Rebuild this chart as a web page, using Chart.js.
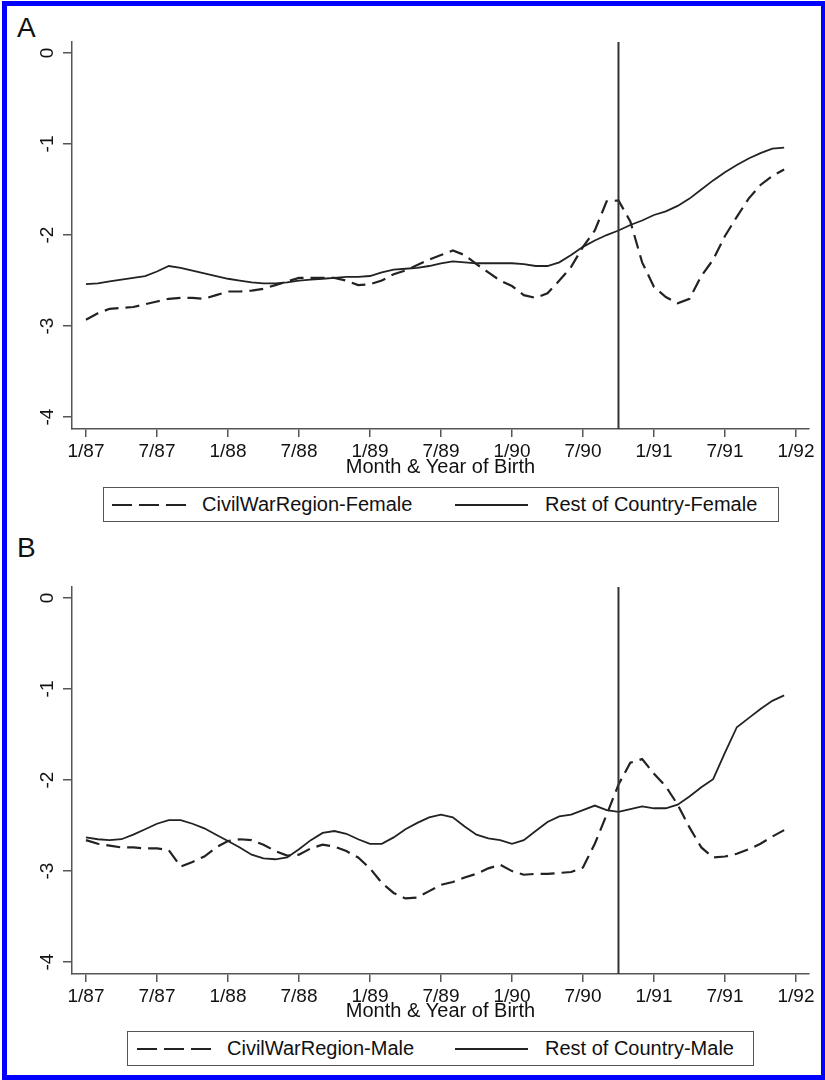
<!DOCTYPE html>
<html>
<head>
<meta charset="utf-8">
<script src="https://cdn.jsdelivr.net/npm/chart.js@4.4.1/dist/chart.umd.min.js"></script>
<style>
    body { margin: 0; background: #fff; font-family: "Liberation Sans", Arial, sans-serif; color: #111; }
    #page { position: relative; width: 825px; height: 1080px; overflow: hidden; }
    #frame { position: absolute; left: 2px; top: 1px; right: 0; bottom: 0; border: solid #0000ff; border-width: 5px 4px 5px 5px; }
    canvas { position: absolute; left: 0; }
    .panel-letter { position: absolute; left: 17px; font-size: 28px; line-height: 28px; }
    .legend { position: absolute; border: 1.5px solid #555; box-sizing: border-box; height: 35px; }
    .legend .item { position: absolute; top: 0; height: 100%; display: flex; align-items: center; font-size: 20px; }
    .legend svg { position: absolute; top: 0; height: 100%; }
</style>
</head>
<body>
<div id="page">
    <div id="frame"></div>

    <div class="panel-letter" style="top:14px">A</div>
    <canvas id="chartA" width="825" height="481" style="top:0"></canvas>
    <div class="legend" style="left:103px; top:487px; width:676px">
        <svg width="75" style="left:8px"><line x1="0" y1="17" x2="75" y2="17" stroke="#222" stroke-width="2" stroke-dasharray="20 7"/></svg>
        <div class="item" style="left:98px">CivilWarRegion-Female</div>
        <svg width="73" style="left:351px"><line x1="0" y1="17" x2="73" y2="17" stroke="#222" stroke-width="2"/></svg>
        <div class="item" style="left:441px">Rest of Country-Female</div>
    </div>

    <div class="panel-letter" style="top:534px">B</div>
    <canvas id="chartB" width="825" height="480" style="top:545px"></canvas>
    <div class="legend" style="left:127px; top:1031px; width:627px">
        <svg width="75" style="left:9px"><line x1="0" y1="17" x2="75" y2="17" stroke="#222" stroke-width="2" stroke-dasharray="20 7"/></svg>
        <div class="item" style="left:99px">CivilWarRegion-Male</div>
        <svg width="73" style="left:327px"><line x1="0" y1="17" x2="73" y2="17" stroke="#222" stroke-width="2"/></svg>
        <div class="item" style="left:417px">Rest of Country-Male</div>
    </div>
</div>

<script>
    // month of birth, one entry per data point (1/87 .. 12/91)
    var birthMonths = [
        '1/87', '2/87', '3/87', '4/87', '5/87', '6/87', '7/87', '8/87', '9/87', '10/87', '11/87', '12/87',
        '1/88', '2/88', '3/88', '4/88', '5/88', '6/88', '7/88', '8/88', '9/88', '10/88', '11/88', '12/88',
        '1/89', '2/89', '3/89', '4/89', '5/89', '6/89', '7/89', '8/89', '9/89', '10/89', '11/89', '12/89',
        '1/90', '2/90', '3/90', '4/90', '5/90', '6/90', '7/90', '8/90', '9/90', '10/90', '11/90', '12/90',
        '1/91', '2/91', '3/91', '4/91', '5/91', '6/91', '7/91', '8/91', '9/91', '10/91', '11/91', '12/91'
    ];

    var xTickPos = [0, 6, 12, 18, 24, 30, 36, 42, 48, 54, 60];
    var xTickLabels = ['1/87', '7/87', '1/88', '7/88', '1/89', '7/89', '1/90', '7/90', '1/91', '7/91', '1/92'];
    var yTicks = [0, -1, -2, -3, -4];
    var warStart = 45; // 10/90

    var civilWarFemale = [
        -2.93, -2.86, -2.81, -2.80, -2.79, -2.76, -2.73, -2.70, -2.69, -2.69, -2.70, -2.66,
        -2.62, -2.62, -2.61, -2.59, -2.55, -2.51, -2.47, -2.47, -2.47, -2.47, -2.50, -2.55,
        -2.54, -2.50, -2.43, -2.39, -2.33, -2.27, -2.22, -2.17, -2.22, -2.32, -2.41, -2.50,
        -2.56, -2.66, -2.69, -2.64, -2.50, -2.35, -2.13, -1.95, -1.63, -1.62, -1.85, -2.30,
        -2.57, -2.68, -2.75, -2.70, -2.45, -2.27, -2.01, -1.80, -1.60, -1.45, -1.35, -1.28
    ];
    var restFemale = [
        -2.54, -2.53, -2.51, -2.49, -2.47, -2.45, -2.40, -2.34, -2.36, -2.39, -2.42, -2.45,
        -2.48, -2.50, -2.52, -2.53, -2.53, -2.52, -2.50, -2.49, -2.48, -2.47, -2.46, -2.46,
        -2.45, -2.41, -2.38, -2.37, -2.36, -2.34, -2.31, -2.29, -2.30, -2.31, -2.31, -2.31,
        -2.31, -2.32, -2.34, -2.34, -2.30, -2.22, -2.13, -2.06, -2.00, -1.95, -1.89, -1.84,
        -1.78, -1.74, -1.68, -1.60, -1.50, -1.40, -1.31, -1.23, -1.16, -1.10, -1.05, -1.04
    ];
    var civilWarMale = [
        -2.66, -2.70, -2.72, -2.74, -2.74, -2.75, -2.75, -2.77, -2.95, -2.90, -2.84, -2.74,
        -2.67, -2.65, -2.66, -2.71, -2.78, -2.83, -2.82, -2.75, -2.71, -2.73, -2.78, -2.85,
        -2.97, -3.13, -3.24, -3.30, -3.29, -3.22, -3.15, -3.12, -3.07, -3.03, -2.97, -2.93,
        -3.00, -3.04, -3.03, -3.03, -3.02, -3.01, -2.96, -2.70, -2.38, -2.05, -1.81, -1.77,
        -1.93, -2.07, -2.27, -2.52, -2.74, -2.85, -2.84, -2.81, -2.76, -2.70, -2.62, -2.55
    ];
    var restMale = [
        -2.63, -2.65, -2.66, -2.65, -2.60, -2.54, -2.48, -2.44, -2.44, -2.48, -2.53, -2.60,
        -2.67, -2.74, -2.82, -2.86, -2.87, -2.85, -2.76, -2.66, -2.58, -2.56, -2.59, -2.65,
        -2.70, -2.70, -2.63, -2.54, -2.47, -2.41, -2.38, -2.41, -2.51, -2.60, -2.64, -2.66,
        -2.70, -2.66, -2.56, -2.46, -2.40, -2.38, -2.33, -2.28, -2.33, -2.35, -2.32, -2.29,
        -2.31, -2.31, -2.27, -2.18, -2.08, -1.99, -1.70, -1.42, -1.32, -1.22, -1.13, -1.07
    ];

    var axisColor = '#555';
    var lineColor = '#222';

    function toPoints(values) {
        return values.map(function (v, i) {
            return { x: i, y: v };
        });
    }

    // vertical line at the start of the war
    var warLine = {
        id: 'warLine',
        afterDatasetsDraw: function (chart) {
            var ctx = chart.ctx;
            var x = chart.scales.x.getPixelForValue(warStart);
            ctx.save();
            ctx.strokeStyle = '#333';
            ctx.lineWidth = 2;
            ctx.beginPath();
            ctx.moveTo(x, chart.chartArea.top);
            ctx.lineTo(x, chart.chartArea.bottom);
            ctx.stroke();
            ctx.restore();
        }
    };

    function makeChart(canvasId, dashedValues, solidValues, dashedName, solidName) {
        var ctx = document.getElementById(canvasId).getContext('2d');
        var canvasHeight = document.getElementById(canvasId).height;

        return new Chart(ctx, {
            type: 'line',
            data: {
                datasets: [
                    {
                        label: dashedName,
                        data: toPoints(dashedValues),
                        borderColor: lineColor,
                        borderWidth: 2.2,
                        borderDash: [14, 7],
                        pointRadius: 0,
                        tension: 0
                    },
                    {
                        label: solidName,
                        data: toPoints(solidValues),
                        borderColor: lineColor,
                        borderWidth: 1.8,
                        pointRadius: 0,
                        tension: 0
                    }
                ]
            },
            options: {
                responsive: false,
                animation: false,
                devicePixelRatio: 1,
                layout: { padding: { left: 0, right: 16, top: 42, bottom: 0 } },
                plugins: {
                    legend: { display: false },
                    tooltip: { enabled: false }
                },
                scales: {
                    x: {
                        type: 'linear',
                        min: -1.18,
                        max: 61.1,
                        afterBuildTicks: function (scale) {
                            scale.ticks = xTickPos.map(function (v) { return { value: v }; });
                        },
                        afterFit: function (scale) {
                            scale.height = canvasHeight - 429;
                        },
                        ticks: {
                            autoSkip: false,
                            maxRotation: 0,
                            padding: 3,
                            color: '#111',
                            font: { family: 'Liberation Sans', size: 19 },
                            callback: function (value, index) {
                                return xTickLabels[index];
                            }
                        },
                        grid: { drawOnChartArea: false, tickLength: 8, color: axisColor, lineWidth: 1.5 },
                        border: { color: axisColor, width: 1.5 },
                        title: {
                            display: true,
                            text: 'Month & Year of Birth',
                            color: '#111',
                            font: { family: 'Liberation Sans', size: 20, lineHeight: 1.2 },
                            padding: { top: 0, bottom: 2 }
                        }
                    },
                    y: {
                        min: -4.13,
                        max: 0.12,
                        afterBuildTicks: function (scale) {
                            scale.ticks = yTicks.map(function (v) { return { value: v }; });
                        },
                        afterFit: function (scale) {
                            scale.width = 72;
                        },
                        ticks: {
                            minRotation: 90,
                            maxRotation: 90,
                            crossAlign: 'center',
                            padding: 7,
                            color: '#111',
                            font: { family: 'Liberation Sans', size: 19 }
                        },
                        grid: { drawOnChartArea: false, tickLength: 9, color: axisColor, lineWidth: 1.5 },
                        border: { color: axisColor, width: 1.5 }
                    }
                }
            },
            plugins: [warLine]
        });
    }

    makeChart('chartA', civilWarFemale, restFemale, 'CivilWarRegion-Female', 'Rest of Country-Female');
    makeChart('chartB', civilWarMale, restMale, 'CivilWarRegion-Male', 'Rest of Country-Male');
</script>
</body>
</html>
